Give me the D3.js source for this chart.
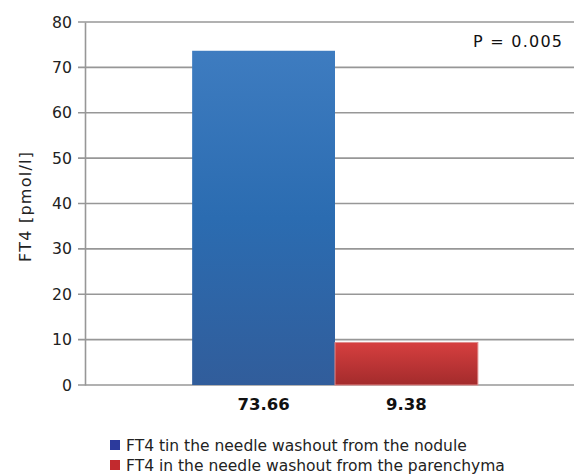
<!DOCTYPE html>
<html><head><meta charset="utf-8">
<script src="https://cdn.jsdelivr.net/npm/d3@7"></script>
<style>body{margin:0;background:#fff}svg{display:block}</style>
</head><body>
<script>
const categories = ["73.66", "9.38"];
const values = [73.66, 9.38];
const seriesNames = ["FT4 tin the needle washout from the nodule", "FT4 in the needle washout from the parenchyma"];
const yTicks = [0, 10, 20, 30, 40, 50, 60, 70, 80];
const yTitle = "FT4 [pmol/l]";
const annotation = "P = 0.005";

const W = 574, H = 476;
const svg = d3.select("body").append("svg").attr("width", W).attr("height", H);
const defs = svg.append("defs");
const g1 = defs.append("linearGradient").attr("id","gb").attr("x1",0).attr("y1",0).attr("x2",0).attr("y2",1);
g1.append("stop").attr("offset","0%").attr("stop-color","#3e7cc0");
g1.append("stop").attr("offset","50%").attr("stop-color","#2b6cb1");
g1.append("stop").attr("offset","100%").attr("stop-color","#315d9b");
const g2 = defs.append("linearGradient").attr("id","gr").attr("x1",0).attr("y1",0).attr("x2",0).attr("y2",1);
g2.append("stop").attr("offset","0%").attr("stop-color","#d63f3f");
g2.append("stop").attr("offset","100%").attr("stop-color","#a32b2c");
const fills = ["url(#gb)","url(#gr)"];
const swatch = ["#2c3a9c","#c22a2e"];

const y = d3.scaleLinear().domain([0,80]).range([385,22]);
const x = d3.scaleBand().domain(categories).range([85,585]).paddingInner(0).paddingOuter(0.75);

// gridlines
svg.append("g").selectAll("line").data(yTicks).join("line")
  .attr("x1",78).attr("x2",574).attr("y1",d=>y(d)).attr("y2",d=>y(d))
  .attr("stroke","#979797").attr("stroke-width",1.6);

// y axis
const ya = svg.append("g").attr("transform","translate(85,0)")
  .call(d3.axisLeft(y).tickValues(yTicks).tickSize(0).tickPadding(13));
ya.select(".domain").attr("stroke","#979797").attr("stroke-width",1.6);
ya.selectAll("text").attr("font-family","DejaVu Sans").attr("font-size",15.7).attr("fill","#222");

// bars
svg.append("g").selectAll("rect").data(values).join("rect")
  .attr("x",(d,i)=>x(categories[i])).attr("width",x.bandwidth())
  .attr("y",d=>y(d)).attr("height",d=>y(0)-y(d))
  .attr("fill",(d,i)=>fills[i])
  .attr("stroke",(d,i)=>i===1?"#e08a8a":"none").attr("stroke-width",1);

// x labels
const xa = svg.append("g").attr("transform","translate(0,385)")
  .call(d3.axisBottom(x).tickSize(0).tickPadding(13));
xa.select(".domain").remove();
xa.selectAll("text").attr("font-family","DejaVu Sans").attr("font-weight","bold").attr("font-size",16.5).attr("fill","#111");

// y title
svg.append("text").attr("transform","translate(31,207) rotate(-90)")
  .attr("text-anchor","middle").attr("font-family","DejaVu Sans").attr("font-size",16).attr("fill","#222")
  .attr("textLength",110).attr("lengthAdjust","spacing")
  .text(yTitle);

// annotation
svg.append("text").attr("x",562).attr("y",47).attr("text-anchor","end")
  .attr("font-family","DejaVu Sans").attr("font-size",16).attr("fill","#111")
  .attr("textLength",89).attr("lengthAdjust","spacing").text(annotation);

// legend
const lg = svg.append("g");
let fs = 15;
const probe = lg.append("text").attr("font-family","DejaVu Sans").attr("font-size",fs).text(seriesNames[0]);
fs = fs * 341 / probe.node().getComputedTextLength();
probe.remove();
seriesNames.forEach((s,i)=>{
  const yy = 451 + i*20;
  lg.append("rect").attr("x",110).attr("y",yy-11).attr("width",10).attr("height",10).attr("fill",swatch[i]);
  lg.append("text").attr("x",126).attr("y",yy).attr("font-family","DejaVu Sans").attr("font-size",fs).attr("fill","#222").text(s);
});
</script>
</body></html>
